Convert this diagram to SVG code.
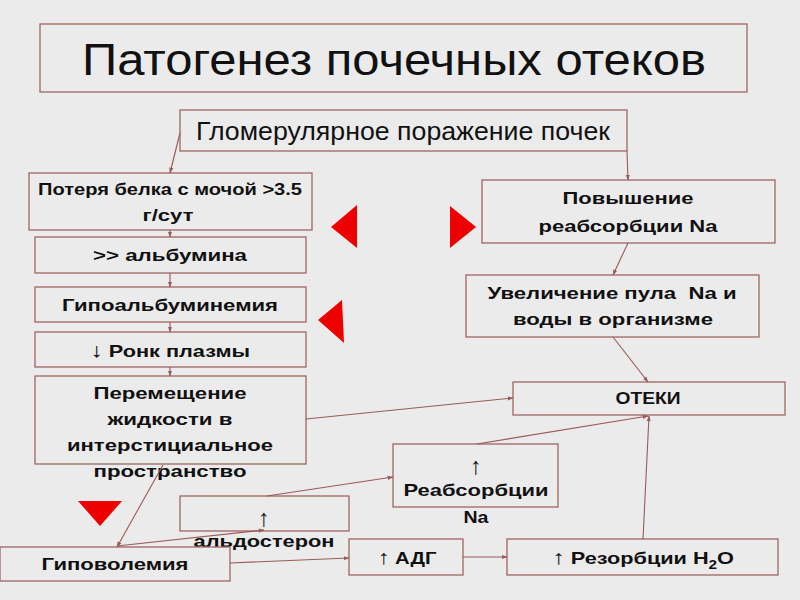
<svg xmlns="http://www.w3.org/2000/svg" width="800" height="600" viewBox="0 0 800 600">
<style>
.box{fill:none;stroke:#a06464;stroke-width:1.3}
.t{font-family:"Liberation Sans",Arial,sans-serif;font-weight:bold;font-size:17px;fill:#111;text-anchor:middle}
.r{font-family:"Liberation Sans",Arial,sans-serif;fill:#111;text-anchor:middle}
.ar{font-family:"Liberation Sans",Arial,sans-serif;font-weight:normal}
.big{font-size:24px}
.c{fill:none;stroke:#9a5a5a;stroke-width:1.1;marker-end:url(#ah)}
.tri{fill:#ee0000}
</style>
<defs>
<marker id="ah" viewBox="0 0 10 10" refX="9" refY="5" markerWidth="6" markerHeight="6" orient="auto" markerUnits="userSpaceOnUse">
<path d="M0,1.5 L10,5 L0,8.5 z" fill="#9a5a5a"/>
</marker>
</defs>
<rect width="800" height="600" fill="#ebebeb"/>
<g id="title"><rect class="box" x="40" y="24" width="707" height="68" stroke="#c09a9a"/><text class="r" x="394" y="75" font-size="44" textLength="624" lengthAdjust="spacingAndGlyphs">Патогенез почечных отеков</text></g>
<g id="glom"><rect class="box" x="180" y="110" width="447" height="41"/><text class="r" x="403" y="140" font-size="25" textLength="414" lengthAdjust="spacingAndGlyphs">Гломерулярное поражение почек</text></g>
<g id="loss"><rect class="box" x="29" y="173" width="283" height="57"/><text class="t" x="170" y="195" textLength="264" lengthAdjust="spacingAndGlyphs">Потеря белка с мочой &gt;3.5</text><text class="t" x="168" y="221" textLength="51" lengthAdjust="spacingAndGlyphs">г/сут</text></g>
<g id="alb"><rect class="box" x="35" y="237" width="271" height="36"/><text class="t" x="170" y="261" textLength="154" lengthAdjust="spacingAndGlyphs">&gt;&gt; альбумина</text></g>
<g id="hypoalb"><rect class="box" x="35" y="287" width="271" height="35"/><text class="t" x="170" y="311" textLength="216" lengthAdjust="spacingAndGlyphs">Гипоальбуминемия</text></g>
<g id="ronk"><rect class="box" x="35" y="332" width="271" height="35"/><text class="t" x="170" y="357" textLength="160" lengthAdjust="spacingAndGlyphs"><tspan class="ar" font-size="20">↓</tspan> Ронк плазмы</text></g>
<g id="move"><rect class="box" x="35" y="376" width="271" height="88"/><text class="t" x="170" y="399" textLength="153" lengthAdjust="spacingAndGlyphs">Перемещение</text><text class="t" x="170" y="425" textLength="125" lengthAdjust="spacingAndGlyphs">жидкости в</text><text class="t" x="170" y="451" textLength="206" lengthAdjust="spacingAndGlyphs">интерстициальное</text><text class="t" x="170" y="477" textLength="153" lengthAdjust="spacingAndGlyphs">пространство</text></g>
<g id="na"><rect class="box" x="482" y="180" width="293" height="63"/><text class="t" x="628" y="204" textLength="131" lengthAdjust="spacingAndGlyphs">Повышение</text><text class="t" x="628" y="232" textLength="179" lengthAdjust="spacingAndGlyphs">реабсорбции Na</text></g>
<g id="pool"><rect class="box" x="466" y="275" width="293" height="62"/><text class="t" x="612" y="299" textLength="249" lengthAdjust="spacingAndGlyphs" xml:space="preserve">Увеличение пула  Na и</text><text class="t" x="613" y="325" textLength="200" lengthAdjust="spacingAndGlyphs">воды в организме</text></g>
<g id="edema"><rect class="box" x="513" y="382" width="272" height="33"/><text class="t" x="648" y="404" textLength="65" lengthAdjust="spacingAndGlyphs">ОТЕКИ</text></g>
<g id="reabs"><rect class="box" x="393" y="444" width="165" height="63"/><text class="t ar big" x="476" y="474">↑</text><text class="t" x="476" y="496" textLength="145" lengthAdjust="spacingAndGlyphs">Реабсорбции</text><text class="t" x="476" y="523" textLength="25" lengthAdjust="spacingAndGlyphs">Na</text></g>
<g id="aldo"><rect class="box" x="180" y="496" width="169" height="35"/><text class="t ar big" x="264" y="526">↑</text><text class="t" x="264" y="547" textLength="141" lengthAdjust="spacingAndGlyphs">альдостерон</text></g>
<g id="hypovol"><rect class="box" x="0" y="547" width="230" height="34"/><text class="t" x="115" y="570" textLength="147" lengthAdjust="spacingAndGlyphs">Гиповолемия</text></g>
<g id="adh"><rect class="box" x="349" y="539" width="114" height="36"/><text class="t" x="407" y="564" textLength="59" lengthAdjust="spacingAndGlyphs"><tspan class="ar" font-size="20">↑</tspan> АДГ</text></g>
<g id="h2o"><rect class="box" x="507" y="539" width="271" height="36"/><text class="t" x="643" y="564" textLength="182" lengthAdjust="spacingAndGlyphs"><tspan class="ar" font-size="20">↑</tspan> Резорбции Н<tspan font-size="12" dy="5">2</tspan><tspan dy="-5">О</tspan></text></g>
<g id="triangles">
<polygon class="tri" points="331,227 357,205 357,248"/>
<polygon class="tri" points="476,227 450,206 450,248"/>
<polygon class="tri" points="318,320 342,300 344,343"/>
<polygon class="tri" points="78,501 122,501 100,526"/>
</g>
<g id="connectors">
<path class="c" d="M180,133 L170,173"/>
<path class="c" d="M627,151 L628,180"/>
<path class="c" d="M170,230 L170,237"/>
<path class="c" d="M170,273 L170,287"/>
<path class="c" d="M170,322 L170,332"/>
<path class="c" d="M170,367 L170,376"/>
<path class="c" d="M628,243 L613,275"/>
<path class="c" d="M613,337 L648,382"/>
<path class="c" d="M306,419 L513,398"/>
<path class="c" d="M477,444 L648,416"/>
<path class="c" d="M643,539 L649,416"/>
<path class="c" d="M163,465 L117,547"/>
<path class="c" d="M117,546 L264,530"/>
<path class="c" d="M267,496 L393,477"/>
<path class="c" d="M230,563 L349,558"/>
<path class="c" d="M463,557 L507,557"/>
</g>
</svg>
